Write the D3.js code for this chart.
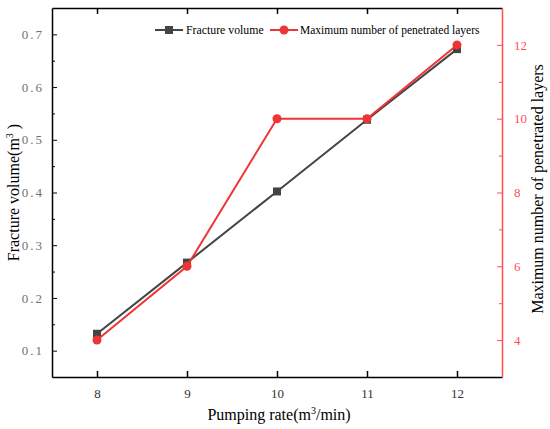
<!DOCTYPE html>
<html><head><meta charset="utf-8">
<script src="https://cdn.jsdelivr.net/npm/d3@7"></script>
<style>body{margin:0;background:#fff}svg{display:block}svg text{font-family:'Liberation Serif','DejaVu Serif',serif !important}</style>
</head><body>
<svg id="c" width="550" height="429" font-family="Liberation Serif"></svg>
<script>
const rates = [8, 9, 10, 11, 12];
const fractureVolume = [0.132, 0.267, 0.402, 0.538, 0.672];
const penetratedLayers = [4, 6, 10, 10, 12];
const xTicks = [8, 9, 10, 11, 12];
const leftTicks = [0.1, 0.2, 0.3, 0.4, 0.5, 0.6, 0.7];
const rightTicks = [4, 6, 8, 10, 12];
const seriesNames = ["Fracture volume", "Maximum number of penetrated layers"];

const FONT = "Liberation Serif";
const svg = d3.select("#c");
const L = 52, R = 502, T = 8, B = 377;
const gray = "#444444", red = "#ee3535", redAxis = "#ff5050";
const x = d3.scaleLinear().domain([7.5, 12.5]).range([L, R]);
const yL = d3.scaleLinear().domain([0.05, 0.75]).range([B, T]);
const yR = d3.scaleLinear().domain([3, 13]).range([B, T]);

// bottom axis
const gb = svg.append("g").attr("transform", `translate(0,${B})`)
  .call(d3.axisBottom(x).tickValues(xTicks).tickSizeInner(-6).tickSizeOuter(0).tickPadding(12).tickFormat(d3.format("d")));
gb.attr("font-family", FONT);
gb.select(".domain").attr("stroke", "#000").attr("stroke-width", 1.5);
gb.selectAll(".tick line").attr("stroke", "#000").attr("stroke-width", 1.5);
gb.selectAll(".tick text").attr("font-size", 13).attr("fill", "#333");

// top axis
const gt = svg.append("g").attr("transform", `translate(0,${T})`)
  .call(d3.axisTop(x).tickValues(xTicks).tickSizeInner(-6).tickSizeOuter(0).tickFormat(""));
gt.select(".domain").attr("stroke", "#000").attr("stroke-width", 1.5);
gt.selectAll(".tick line").attr("stroke", "#000").attr("stroke-width", 1.5);

// left axis
const gl = svg.append("g").attr("transform", `translate(${L},0)`)
  .call(d3.axisLeft(yL).tickValues(leftTicks).tickSizeInner(-5).tickSizeOuter(0).tickPadding(8).tickFormat(d3.format(".1f")));
gl.attr("font-family", FONT);
gl.select(".domain").attr("stroke", "#000").attr("stroke-width", 1.5);
gl.selectAll(".tick line").attr("stroke", "#000").attr("stroke-width", 1);
gl.selectAll(".tick text").attr("font-size", 13).attr("fill", "#707070").attr("letter-spacing", "2px");
const gls = svg.append("g").attr("transform", `translate(${L},0)`)
  .call(d3.axisLeft(yL).tickValues(leftTicks.map(v => v + 0.05).filter(v => v < 0.75)).tickSizeInner(-3).tickSizeOuter(0).tickFormat(""));
gls.select(".domain").remove();
gls.selectAll(".tick line").attr("stroke", "#000").attr("stroke-width", 1);

// right axis
const gr = svg.append("g").attr("transform", `translate(${R},0)`)
  .call(d3.axisRight(yR).tickValues(rightTicks).tickSizeInner(-5).tickSizeOuter(0).tickPadding(12).tickFormat(d3.format("d")));
gr.attr("font-family", FONT);
gr.select(".domain").attr("stroke", redAxis).attr("stroke-width", 1.5);
gr.selectAll(".tick line").attr("stroke", redAxis).attr("stroke-width", 1);
gr.selectAll(".tick text").attr("font-size", 13).attr("fill", redAxis);
const grs = svg.append("g").attr("transform", `translate(${R},0)`)
  .call(d3.axisRight(yR).tickValues(rightTicks.map(v => v + 1).filter(v => v < 13)).tickSizeInner(-3).tickSizeOuter(0).tickFormat(""));
grs.select(".domain").remove();
grs.selectAll(".tick line").attr("stroke", redAxis).attr("stroke-width", 1);

// series
const lineL = d3.line().x((d, i) => x(rates[i])).y(d => yL(d));
const lineR = d3.line().x((d, i) => x(rates[i])).y(d => yR(d));
svg.append("path").attr("d", lineL(fractureVolume)).attr("fill", "none").attr("stroke", gray).attr("stroke-width", 2);
svg.selectAll(".sq").data(fractureVolume).enter().append("rect")
  .attr("x", (d, i) => x(rates[i]) - 4).attr("y", d => yL(d) - 4).attr("width", 8).attr("height", 8).attr("fill", gray);
svg.append("path").attr("d", lineR(penetratedLayers)).attr("fill", "none").attr("stroke", red).attr("stroke-width", 2);
svg.selectAll(".ci").data(penetratedLayers).enter().append("circle")
  .attr("cx", (d, i) => x(rates[i])).attr("cy", d => yR(d)).attr("r", 4.5).attr("fill", red);

// legend
const lg = svg.append("g").attr("font-family", FONT);
lg.append("line").attr("x1", 155).attr("x2", 183).attr("y1", 30).attr("y2", 30).attr("stroke", gray).attr("stroke-width", 2);
lg.append("rect").attr("x", 165).attr("y", 26).attr("width", 8).attr("height", 8).attr("fill", gray);
lg.append("text").attr("x", 186).attr("y", 34).attr("font-size", 11.8).attr("fill", "#000").text(seriesNames[0]);
lg.append("line").attr("x1", 270).attr("x2", 298).attr("y1", 30).attr("y2", 30).attr("stroke", red).attr("stroke-width", 2);
lg.append("circle").attr("cx", 284).attr("cy", 30).attr("r", 4.5).attr("fill", red);
lg.append("text").attr("x", 300).attr("y", 34).attr("font-size", 11.5).attr("fill", "#000").text(seriesNames[1]);

// axis titles
const xt = svg.append("text").attr("x", 279).attr("y", 420).attr("text-anchor", "middle").attr("font-size", 16).attr("fill", "#000").attr("font-family", FONT);
xt.append("tspan").text("Pumping rate(m");
xt.append("tspan").attr("dy", -6).attr("font-size", 10).text("3");
xt.append("tspan").attr("dy", 6).text("/min)");

const yt = svg.append("text").attr("transform", `translate(19,192.5) rotate(-90)`).attr("text-anchor", "middle").attr("font-size", 16).attr("fill", "#000").attr("font-family", FONT);
yt.append("tspan").text("Fracture volume(m");
yt.append("tspan").attr("dy", -6).attr("font-size", 10).text("3");
yt.append("tspan").attr("dy", 6).text(" )");

svg.append("text").attr("transform", `translate(543,189) rotate(-90)`).attr("text-anchor", "middle").attr("font-size", 16).attr("fill", "#000").attr("font-family", FONT).text("Maximum number of penetrated layers");
</script>
</body></html>
